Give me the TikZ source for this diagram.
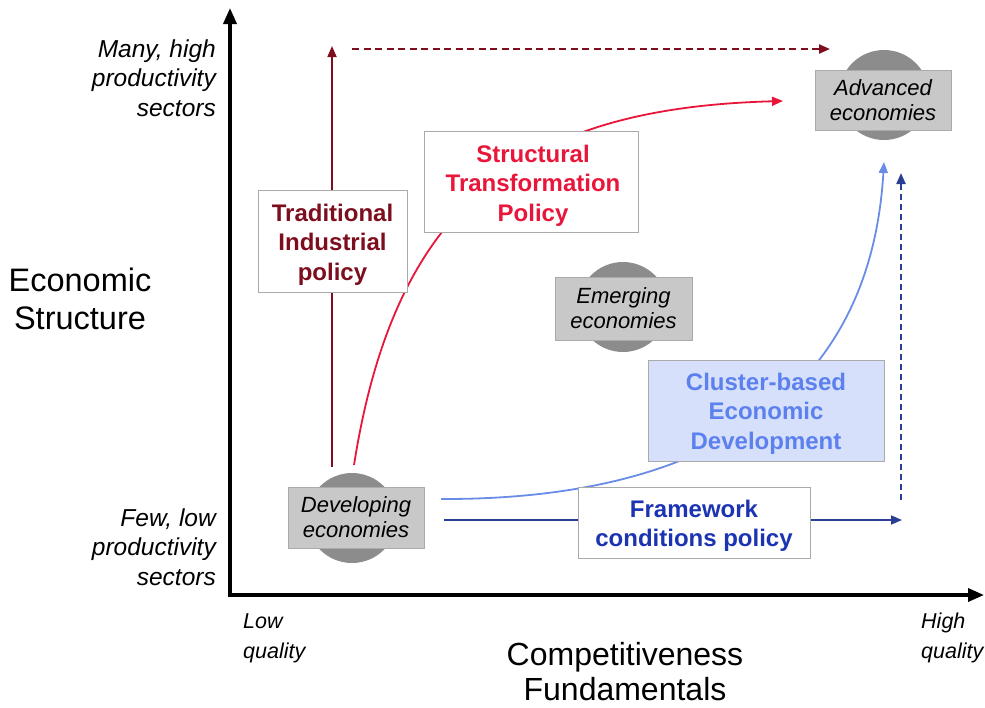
\documentclass[tikz,border=0pt]{standalone}
\usepackage{fontspec}
\setmainfont{Liberation Sans}
\usetikzlibrary{arrows.meta}
\definecolor{circgray}{RGB}{140,140,140}
\definecolor{boxgray}{RGB}{200,200,200}
\definecolor{boxedge}{RGB}{170,170,170}
\definecolor{darkredc}{RGB}{125,14,30}
\definecolor{redc}{RGB}{232,22,58}
\definecolor{lbluetext}{RGB}{92,128,238}
\definecolor{lbluecurve}{RGB}{105,140,230}
\definecolor{lbluefill}{RGB}{214,224,250}
\definecolor{dbluetext}{RGB}{28,52,178}
\definecolor{dblueline}{RGB}{42,62,150}
\tikzset{
  econcirc/.style={circle, fill=circgray, minimum size=90pt, inner sep=0pt},
  econbox/.style={fill=boxgray, draw=boxedge, line width=0.8pt, minimum width=136pt, minimum height=61pt, inner sep=2pt, font=\fontsize{22}{25}\selectfont\itshape, align=center},
  policybox/.style={fill=white, draw=boxedge, line width=0.8pt, inner sep=0pt},
  policytext/.style={font=\fontsize{24}{29.5}\selectfont\bfseries, align=center, inner sep=0pt},
  axislabel/.style={font=\fontsize{24.5}{29.5}\selectfont\itshape, inner sep=0pt},
  qualitylabel/.style={font=\fontsize{21.5}{30}\selectfont\itshape, inner sep=0pt, align=left},
  axisline/.style={line width=3.5pt, -{Triangle[length=16pt,width=13pt]}},
  tip/.style={-{Triangle[length=11pt,width=9pt]}}
}
\begin{document}
\begin{tikzpicture}[x=1pt,y=-1pt]
\useasboundingbox (0,0) rectangle (985,707);
% axes
\coordinate (yB) at (230,597);
\coordinate (yT) at (230,8);
\coordinate (xL) at (228,595);
\coordinate (xR) at (984,595);
\draw[axisline] (yB) -- (yT);
\draw[axisline] (xL) -- (xR);
% axis labels
\node[axislabel, align=right, anchor=east] (many) at (216,78) {Many, high\\productivity\\sectors};
\node[axislabel, align=right, anchor=east] (few) at (216,547) {Few, low\\productivity\\sectors};
\node[font=\fontsize{32.5}{38}\selectfont, align=center, inner sep=0pt] (es) at (80,299) {Economic\\Structure};
\node[qualitylabel, anchor=west] (low) at (243,638) {Low\\quality};
\node[qualitylabel, anchor=west] (high) at (921,638) {High\\quality};
\node[font=\fontsize{32}{35}\selectfont, align=center, inner sep=0pt] (cf) at (625,672) {Competitiveness\\Fundamentals};
% circles
\node[econcirc] (devc) at (352,518) {};
\node[econcirc] (advc) at (884,95) {};
\node[econcirc] (emec) at (623,307) {};
% connectors
\coordinate (trS) at (332,467);
\coordinate (trE) at (332,46);
\draw[darkredc, line width=1.7pt, tip] (trS) -- (trE);
\coordinate (daS) at (352,49);
\coordinate (daE) at (830,49);
\draw[darkredc, line width=2.2pt, dash pattern=on 7pt off 4.5pt, tip] (daS) -- (daE);
\coordinate (stS) at (354,465);
\coordinate (stE) at (783,101);
\draw[redc, line width=1.8pt, tip] (stS) .. controls (395,205) and (520,108) .. (stE);
\coordinate (bcS) at (441,499);
\coordinate (bcE) at (884,162);
\draw[lbluecurve, line width=1.8pt, tip] (bcS) .. controls (700,500) and (870,400) .. (bcE);
\coordinate (fwS) at (444,520);
\coordinate (fwE) at (902,520);
\draw[dblueline, line width=1.7pt, tip] (fwS) -- (fwE);
\coordinate (dbS) at (901,500);
\coordinate (dbE) at (901,173);
\draw[dblueline, line width=2.2pt, dash pattern=on 6pt off 4pt, tip] (dbS) -- (dbE);
% policy boxes
\node[policybox, minimum width=149pt, minimum height=102pt] (trad) at (332.5,241) {};
\node[policytext, text=darkredc] (tradtxt) at (332.5,244.5) {Traditional\\Industrial\\policy};
\node[policybox, minimum width=214pt, minimum height=101pt] (stru) at (531,181.5) {};
\node[policytext, text=redc] (strutxt) at (533,185.5) {Structural\\Transformation\\Policy};
\node[policybox, fill=lbluefill, minimum width=236pt, minimum height=101pt] (clus) at (766,410.5) {};
\node[policytext, text=lbluetext] (clustxt) at (766,413.5) {Cluster-based\\Economic\\Development};
\node[policybox, minimum width=232pt, minimum height=71pt] (fram) at (694,522.5) {};
\node[policytext, text=dbluetext] (framtxt) at (694,526) {Framework\\conditions policy};
% economy boxes
\node[econbox] (dev) at (356,517.5) {Developing\\economies};
\node[econbox, minimum height=60pt] (adv) at (883,100) {Advanced\\economies};
\node[econbox, minimum width=137pt, minimum height=63pt] (eme) at (623.5,308.5) {Emerging\\economies};
\end{tikzpicture}
\end{document}
